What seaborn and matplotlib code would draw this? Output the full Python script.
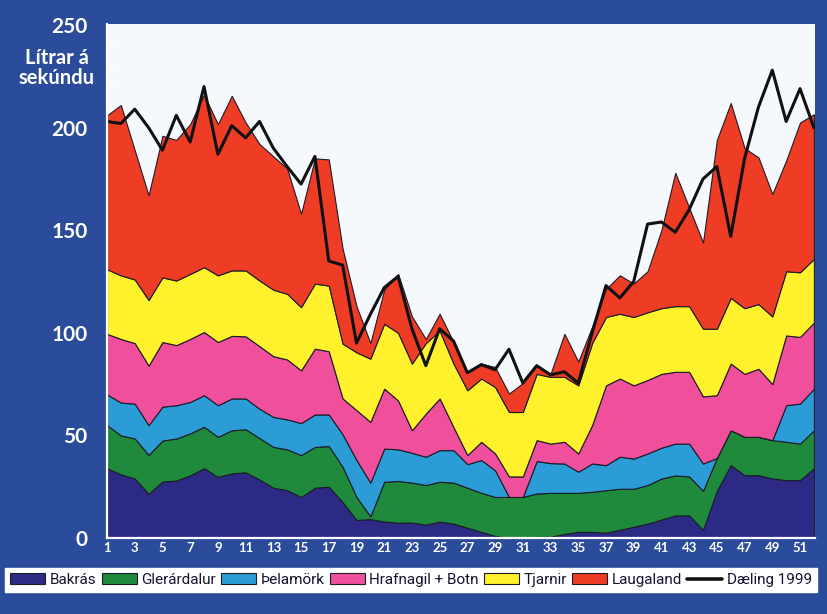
import numpy as np
import matplotlib
matplotlib.use("Agg")
import matplotlib.pyplot as plt
from matplotlib.patches import Patch
from matplotlib.lines import Line2D
import seaborn as sns

# ---- data (weeks 1..52, litres per second) ----
weeks = list(range(1, 53))
bakras = [34, 31, 29, 21.5, 27.5, 28, 30.5, 34, 29.8, 31.5, 32, 28.5, 24.5, 23.3, 20, 24.5, 25, 17.5, 8.8, 9.2,
          8, 7.5, 7.5, 6.5, 8, 7, 5, 3, 1, 0, 0, 0.6, 0.6, 2, 3, 3, 2.6, 4, 5.5, 7,
          9, 11, 11, 4, 23, 35.5, 30.6, 30.6, 29, 28.2, 28.2, 34]
glerardalur = [21, 19, 19.5, 19, 20, 20.5, 20.5, 20.2, 19.5, 21, 21, 20.2, 19.9, 19.9, 20.4, 19.9, 19.8, 17.2, 11.2, 1.3,
               19.4, 20.3, 19.5, 19.3, 19.4, 20, 19.5, 19, 19, 20, 20, 21.1, 21.4, 20, 19, 19.5, 20.7, 20, 18.5, 18.8,
               20, 19.5, 19, 19, 16, 17, 18.7, 18.7, 18.7, 18.7, 17.8, 18.5]
thelamork = [15, 16, 17, 14.5, 16.5, 16.2, 15.3, 15.4, 15.4, 15.5, 15, 14.3, 14.6, 14.6, 15.6, 15.8, 15.4, 15.8, 18, 16.5,
             16.2, 15.4, 14.5, 13.8, 15.4, 15.8, 11.5, 16, 13, 0, 0, 15.8, 14.5, 14.3, 10.3, 13.8, 12.2, 15.6, 14.7, 15.4,
             15, 15.5, 16, 13.3, 0, 0, 0, 0, 0, 17.8, 19.5, 20.3]
hrafnagil = [29.5, 31, 29.5, 29, 31.5, 29.3, 30.7, 30.8, 30.8, 30.5, 30.3, 30.5, 29.6, 29.2, 25.7, 32.1, 30.8, 17.5, 24.3, 29.6,
             29.2, 23.8, 11, 21, 25.2, 11.2, 4.4, 8.9, 8.2, 10, 10, 10.2, 9.5, 10.6, 8.9, 18.7, 38.9, 38.1, 35.7, 35.8,
             36, 35, 35, 32.7, 30.6, 32.5, 30.7, 33.2, 27.3, 34, 32.5, 32.2]
tjarnir = [31.5, 31, 31, 32, 31.5, 31.5, 31.7, 31.6, 32.5, 31.9, 32.1, 32, 32.4, 32, 30.8, 31.7, 32, 26.7, 28.2, 30.8,
           31.6, 33, 32.5, 34.4, 33, 31, 31.6, 30.8, 32.4, 31.4, 31.4, 32.3, 32.5, 31.6, 33.2, 40, 33.3, 31.6, 33.3, 33,
           32, 32, 32, 33, 32.4, 32, 32, 31.5, 33, 31.3, 31.5, 31]
laugaland = [75, 83, 63, 51, 69, 68.5, 73, 84, 73.7, 85.1, 72.1, 66.5, 65, 61, 45.5, 61, 61.5, 46.3, 22.5, 7.6,
             16.6, 28.7, 23, 2, 8.3, 10.5, 8.5, 7.3, 9.7, 9, 14.1, 4, 1.5, 21, 11.6, 8, 13.7, 18.7, 16.3, 20,
             38, 65, 48, 42, 92, 95, 78, 71.5, 59.6, 54, 73, 70.5]
daeling = [203, 202, 209, 200, 189, 206, 193, 220, 187, 201, 195, 203, 190, 181, 172.5, 186, 135, 133, 95, 109,
           122, 127.5, 102, 84, 102, 96, 80.5, 84.5, 82, 92, 75.5, 84, 79.5, 81, 75.5, 100, 123, 117, 125, 153,
           154, 149, 160, 175, 181, 147, 185, 210, 228, 203, 219, 200]

series_names = ["Bakrás", "Glerárdalur", "Þelamörk", "Hrafnagil + Botn", "Tjarnir", "Laugaland"]
line_name = "Dæling 1999"
ytick_vals = [0, 50, 100, 150, 200, 250]
xtick_labels = list(range(1, 53, 2))

colors = ["#2d2a85", "#1f8a3c", "#2b9cd6", "#ef4f9b", "#fff22c", "#ee3c25"]
bg_blue = "#2b4c9b"

sns.set_theme(style="white")
plt.rcParams["font.family"] = ["Lato", "DejaVu Sans"]

fig = plt.figure(figsize=(8.27, 6.14), dpi=100, facecolor=bg_blue)
ax = fig.add_axes([107 / 827, 76 / 614, 708 / 827, 514 / 614])
ax.set_facecolor("#f5f8fc")

ax.stackplot(weeks, bakras, glerardalur, thelamork, hrafnagil, tjarnir, laugaland,
             colors=colors, edgecolor="#1c1c28", linewidth=0.8)
sns.lineplot(x=weeks, y=daeling, color="#111111", linewidth=2.2, ax=ax, legend=False)

ax.set_xlim(1, 52.08)
ax.set_ylim(0, 250.5)
ax.set_xticks(weeks)
ax.set_xticklabels([str(w) if w in xtick_labels else "" for w in weeks])
ax.set_yticks(ytick_vals)
ax.set_yticks(list(range(0, 251, 10)), minor=True)
ax.tick_params(axis="y", which="major", colors="white", direction="inout", length=12, width=1.6,
               labelsize=15, pad=8)
ax.tick_params(axis="y", which="minor", colors="white", direction="in", length=5, width=1.2, left=True)
ax.tick_params(axis="x", which="major", colors="white", direction="in", length=3, width=1.2,
               labelsize=9.5, pad=3, bottom=True)
for lab in ax.get_yticklabels() + ax.get_xticklabels():
    lab.set_fontweight("bold")
    lab.set_color("white")
ax.set_xlabel("")
ax.set_ylabel("")
for s in ["left", "bottom"]:
    ax.spines[s].set_color("white")
    ax.spines[s].set_linewidth(1.6)
for s in ["top", "right"]:
    ax.spines[s].set_visible(False)

fig.text(57 / 827, 1 - 68 / 614, "Lítrar á\nsekúndu", color="white", fontsize=14.5,
         fontweight="bold", ha="center", va="center", linespacing=1.05)

handles = [Patch(facecolor=c, edgecolor="#1c1c28", linewidth=0.8) for c in colors]
handles.append(Line2D([0], [0], color="#111111", linewidth=2.6))
labels = series_names + [line_name]
leg = fig.legend(handles, labels, loc="center", ncol=7, mode="expand",
                 bbox_to_anchor=(5 / 827, 19 / 614, 812 / 827, 30 / 614),
                 frameon=True, fancybox=False, facecolor="white", edgecolor="white",
                 fontsize=11, handlelength=2.3, handleheight=0.75, handletextpad=0.3,
                 columnspacing=0.6, borderpad=0.35, borderaxespad=0)
leg.get_frame().set_alpha(1)
for t in leg.get_texts():
    t.set_color("#141432")
    t.set_family(["Liberation Sans Narrow", "Roboto", "DejaVu Sans"])

fig.savefig("out.png", dpi=100, facecolor=bg_blue)
